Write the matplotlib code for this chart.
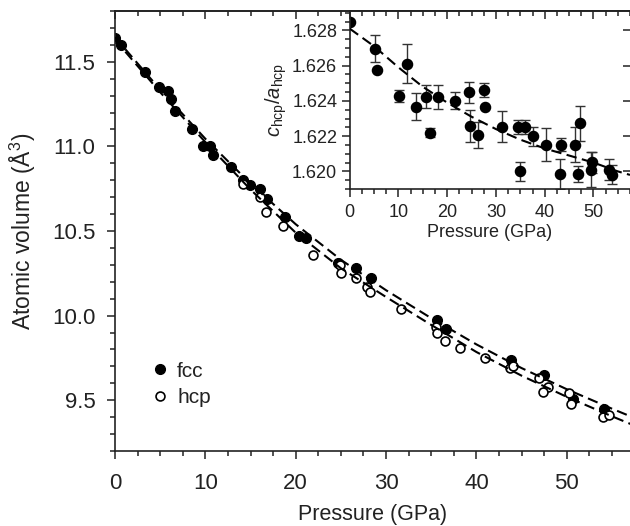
import numpy as np
import matplotlib
matplotlib.use('Agg')
import matplotlib.pyplot as plt
from matplotlib.ticker import MultipleLocator, FormatStrFormatter

plt.rcParams['font.family'] = ['Liberation Sans', 'DejaVu Sans']
plt.rcParams['mathtext.fontset'] = 'custom'
plt.rcParams['mathtext.rm'] = 'Liberation Sans'
plt.rcParams['mathtext.it'] = 'Liberation Sans:italic'

# main panel: atomic volume vs pressure
p_fcc = [0.0, 0.7, 3.3, 4.85, 5.85, 6.2, 6.6, 8.55, 9.7, 10.5, 10.85, 12.87,
         14.15, 14.9, 16.1, 16.85, 18.85, 20.35, 21.1, 24.7, 26.7, 28.3,
         35.65, 36.6, 43.8, 47.5, 50.7, 54.1]
v_fcc = [11.64, 11.60, 11.44, 11.35, 11.33, 11.28, 11.21, 11.10, 11.00, 11.00,
         10.95, 10.88, 10.80, 10.77, 10.75, 10.69, 10.58, 10.47, 10.46, 10.31,
         10.28, 10.22, 9.975, 9.92, 9.74, 9.65, 9.51, 9.45]

p_hcp = [14.15, 16.1, 16.75, 18.6, 21.9, 24.95, 25.05, 26.7, 27.9, 28.25,
         31.6, 35.5, 35.6, 36.55, 38.15, 40.9, 43.75, 44.0, 46.95, 47.9,
         47.4, 50.3, 50.5, 54.0, 54.7]
v_hcp = [10.775, 10.70, 10.61, 10.53, 10.356, 10.30, 10.25, 10.22, 10.17,
         10.14, 10.04, 9.93, 9.90, 9.85, 9.81, 9.75, 9.69, 9.70, 9.63, 9.58,
         9.55, 9.54, 9.48, 9.40, 9.41]

# dashed fit curves
p_fit = [0, 5, 10, 15, 20, 25, 30, 35, 40, 45, 50, 55, 57.5]
v_fit_fcc = [11.645, 11.335, 11.045, 10.78, 10.54, 10.33, 10.15, 9.985,
             9.83, 9.69, 9.565, 9.45, 9.395]
v_fit_hcp = [11.63, 11.32, 11.025, 10.745, 10.49, 10.28, 10.11, 9.945,
             9.785, 9.645, 9.52, 9.405, 9.35]

# inset: c/a ratio of hcp
p_ca = [0.06, 5.2, 5.7, 10.2, 11.7, 13.6, 15.6, 16.5, 18.1, 21.6, 24.55, 24.7,
        26.4, 27.6, 27.8, 31.2, 34.6, 36.0, 34.95, 37.7, 40.3, 43.4, 43.2,
        46.25, 47.3, 46.8, 49.7, 49.55, 53.1, 53.9]
ca = [1.62847, 1.62697, 1.62578, 1.62427, 1.62612, 1.62367, 1.62423, 1.6222,
      1.62423, 1.62401, 1.62448, 1.62258, 1.62207, 1.62461, 1.62364, 1.62254,
      1.62254, 1.62254, 1.6200, 1.62198, 1.62151, 1.62151, 1.61987, 1.62151,
      1.62273, 1.61987, 1.62051, 1.6201, 1.6201, 1.61982]
ca_err = [0, 0.00075, 0, 0.00036, 0.00108, 0.00075, 0.00066, 0.00025,
          0.00068, 0.00049, 0.0006, 0.00092, 0.00075, 0.00041, 0, 0.0009,
          0.0004, 0.0004, 0.00054, 0.00056, 0.00094, 0.00038, 0.00085, 0.001,
          0.001, 0.00045, 0.0006, 0.001, 0.00058, 0.00056]
p_ca_fit = [0, 5, 10, 15, 20, 25, 30, 35, 40, 45, 50, 55, 57.5]
ca_fit = [1.6281, 1.6271, 1.6259, 1.6248, 1.6239, 1.6231, 1.6224, 1.6218,
          1.6213, 1.6209, 1.6205, 1.6200, 1.6198]

tc = '#222222'
fig = plt.figure(figsize=(6.3, 5.26), dpi=100)
ax = fig.add_axes([115 / 630, 1 - 451 / 526, 515 / 630, 440 / 526])

ax.plot(p_fcc, v_fcc, 'o', ms=7, mfc='black', mec='black', label='fcc', zorder=2)
ax.plot(p_hcp, v_hcp, 'o', ms=6.4, mfc='white', mec='black', mew=1.2, label='hcp', zorder=3)
ax.plot(p_fit, v_fit_fcc, color='black', lw=1.5, dashes=(5, 2.6), zorder=4)
ax.plot(p_fit, v_fit_hcp, color='black', lw=1.5, dashes=(5, 2.6), zorder=4)

ax.set_xlim(0, 57.0)
ax.set_ylim(9.2, 11.8)
ax.xaxis.set_major_locator(MultipleLocator(10))
ax.xaxis.set_minor_locator(MultipleLocator(2.5))
ax.yaxis.set_major_locator(MultipleLocator(0.5))
ax.yaxis.set_minor_locator(MultipleLocator(0.1))
ax.yaxis.set_major_formatter(FormatStrFormatter('%.1f'))
ax.tick_params(which='both', direction='out', colors=tc, labelsize=16, width=1.1)
ax.tick_params(which='major', length=6)
ax.tick_params(which='minor', length=3.5)
ax.tick_params(axis='y', pad=8)
ax.tick_params(axis='x', pad=10)
ax.spines['right'].set_visible(False)
for s in ['left', 'bottom', 'top']:
    ax.spines[s].set_linewidth(1.2)
    ax.spines[s].set_color(tc)
ax.set_xlabel('Pressure (GPa)', fontsize=15.5, color=tc, labelpad=7)
ax.set_ylabel('Atomic volume (Å$^{3}$)', fontsize=16.5, color=tc, labelpad=10)

# top ticks point inward
top = ax.secondary_xaxis('top')
top.xaxis.set_major_locator(MultipleLocator(10))
top.xaxis.set_minor_locator(MultipleLocator(2.5))
top.tick_params(which='both', direction='in', labeltop=False, colors=tc, width=1.1)
top.tick_params(which='major', length=6)
top.tick_params(which='minor', length=3.5)
top.spines['top'].set_linewidth(1.2)
top.spines['top'].set_color(tc)

leg = ax.legend(loc='upper left', bbox_to_anchor=(0.06, 0.222), frameon=False,
                fontsize=15, handlelength=0.6, handletextpad=0.5, labelspacing=0.35,
                borderaxespad=0)
for t in leg.get_texts():
    t.set_color(tc)

# inset
ins = fig.add_axes([349.7 / 630, 1 - 189 / 526, 280.3 / 630, 178 / 526])
ins.errorbar(p_ca, ca, yerr=ca_err, fmt='o', ms=7.3, color='black', ecolor='#333333',
             elinewidth=1.0, capsize=3.5, capthick=1.0, zorder=2)
ins.plot(p_ca_fit, ca_fit, color='black', lw=1.5, dashes=(5, 2.6), zorder=4)
ins.set_xlim(0, 57.5)
ins.set_ylim(1.619, 1.6291)
ins.xaxis.set_major_locator(MultipleLocator(10))
ins.xaxis.set_minor_locator(MultipleLocator(2.5))
ins.yaxis.set_major_locator(MultipleLocator(0.002))
ins.yaxis.set_minor_locator(MultipleLocator(0.0005))
ins.yaxis.set_major_formatter(FormatStrFormatter('%.3f'))
ins.tick_params(which='both', direction='out', colors=tc, labelsize=13, width=1.1)
ins.tick_params(which='major', length=6)
ins.tick_params(which='minor', length=3.5)
ins.tick_params(axis='x', pad=5)
ins.tick_params(axis='y', pad=3)
ins.spines['right'].set_visible(False)
for s in ['left', 'bottom', 'top']:
    ins.spines[s].set_linewidth(1.2)
    ins.spines[s].set_color(tc)
ins.set_xlabel('Pressure (GPa)', fontsize=13, color=tc, labelpad=2)
ins.set_ylabel(r'$c_{\rm hcp}/a_{\rm hcp}$', fontsize=14.5, color=tc, labelpad=2)

itop = ins.secondary_xaxis('top')
itop.xaxis.set_major_locator(MultipleLocator(10))
itop.xaxis.set_minor_locator(MultipleLocator(2.5))
itop.tick_params(which='both', direction='in', labeltop=False, colors=tc, width=1.1)
itop.tick_params(which='major', length=6)
itop.tick_params(which='minor', length=3.5)
itop.spines['top'].set_linewidth(1.2)
itop.spines['top'].set_color(tc)

iright = ins.secondary_yaxis('right')
iright.yaxis.set_major_locator(MultipleLocator(0.002))
iright.tick_params(which='major', direction='in', length=5, labelright=False,
                   colors=tc, width=1.1)
iright.yaxis.set_minor_locator(matplotlib.ticker.NullLocator())
iright.spines['right'].set_visible(False)

fig.savefig('out.png', dpi=100)
